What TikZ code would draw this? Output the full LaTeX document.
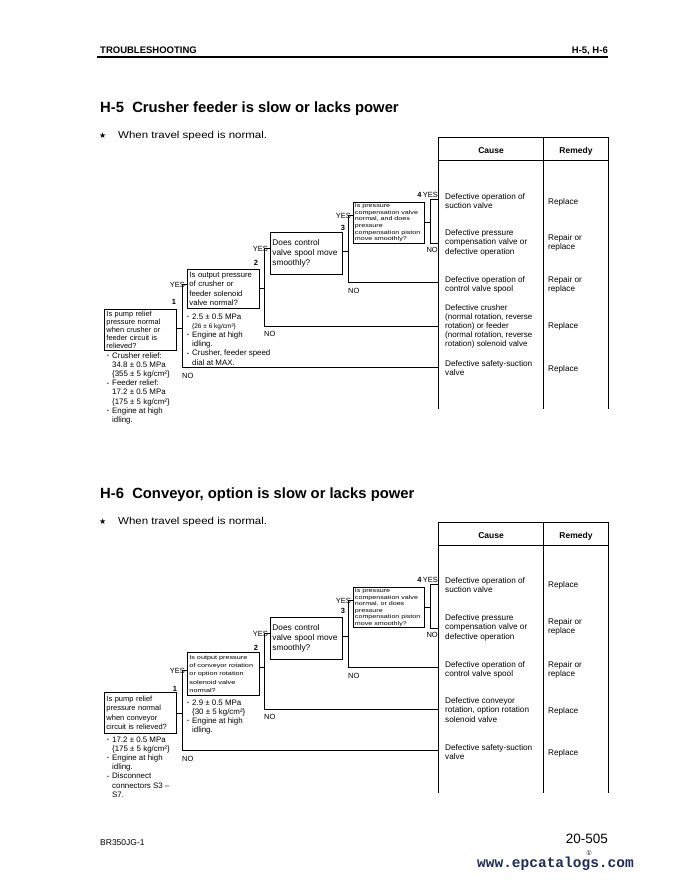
\documentclass[tikz,border=0pt]{standalone}
\usepackage{fontspec}
\setmainfont{Liberation Sans}
\newfontfamily\djv{DejaVu Sans}
\newfontfamily\wide[FakeStretch=1.3]{Liberation Sans}
\newfontfamily\widea[FakeStretch=1.15]{Liberation Sans}
\newfontfamily\monob{Liberation Mono}
\usetikzlibrary{calc}
\definecolor{navy}{RGB}{28,42,92}
\newcommand\bul{\makebox[5pt][l]{\raisebox{0.6pt}{\fontsize{5}{5}\selectfont •}}}
\newcommand\ind{\hspace*{5pt}}
\newcommand\ml[1]{\begin{tabular}[t]{@{}l@{}}#1\end{tabular}}
\newcommand\fcause{\fontsize{8.2}{9.5}\selectfont}
\newcommand\fnote{\fontsize{7.9}{9.2}\selectfont}
\tikzset{
  qbox/.style={draw, line width=0.9pt, anchor=north west, align=left, inner sep=2pt, text width=68pt},
  ln/.style={line width=0.9pt},
  txt/.style={anchor=base west, inner sep=0pt},
  yeslbl/.style={anchor=base east, inner sep=0pt, font=\fontsize{7.5}{9}\selectfont},
  nolbl/.style={anchor=base west, inner sep=0pt, font=\fontsize{7.5}{9}\selectfont},
  numlbl/.style={anchor=base, inner sep=0pt, font=\bfseries\fontsize{7.5}{9}\selectfont},
  hdr/.style={anchor=base, inner sep=0pt, font=\bfseries\fontsize{8.5}{10}\selectfont},
}
\begin{document}
\begin{tikzpicture}[x=1pt,y=-1pt]
\useasboundingbox (0,0) rectangle (684,880);

% page header
\node[anchor=base west, inner sep=0pt, font=\bfseries\fontsize{9.5}{11}\selectfont] (hl) at (100,54) {TROUBLESHOOTING};
\node[anchor=base east, inner sep=0pt, font=\bfseries\fontsize{9.5}{11}\selectfont] (hr) at (608,54) {H-5, H-6};
\draw[line width=1.1pt] (97,57) -- (608,57);

% ================= H-5 =================
\node[anchor=base west, inner sep=0pt, font=\bfseries\fontsize{14.8}{16}\selectfont] (t5) at (100,113) {H-5\ \ Crusher feeder is slow or lacks power};
\node[anchor=base west, inner sep=0pt, font=\djv\fontsize{8}{9}\selectfont] (s5) at (99,139) {★};
\node[anchor=base west, inner sep=0pt, font=\widea\fontsize{10}{12}\selectfont] (w5) at (118,139) {When travel speed is normal.};

% table
\draw[ln] (438,409) -- (438,137) -- (608,137) -- (608,409);
\draw[ln] (543,137) -- (543,409);
\draw[line width=0.4pt] (438,160) -- (608,160);
\coordinate (T5) at (438,137);
\node[hdr] (ca5) at (491,153) {Cause};
\node[hdr] (re5) at (576,153) {Remedy};

\node[txt, font=\fcause] (c51) at (445,199) {\ml{Defective operation of\\suction valve}};
\node[txt, font=\fcause] (c52) at (445,235) {\ml{Defective pressure\\compensation valve or\\defective operation}};
\node[txt, font=\fcause] (c53) at (445,282) {\ml{Defective operation of\\control valve spool}};
\node[txt, font=\fontsize{8}{9}\selectfont] (c54) at (445,310) {\ml{Defective crusher\\(normal rotation, reverse\\rotation) or feeder\\(normal rotation, reverse\\rotation) solenoid valve}};
\node[txt, font=\fcause] (c55) at (445,366) {\ml{Defective safety-suction\\valve}};
\node[txt, font=\fcause] (r51) at (548,204) {Replace};
\node[txt, font=\fcause] (r52) at (548,240) {\ml{Repair or\\replace}};
\node[txt, font=\fcause] (r53) at (548,282) {\ml{Repair or\\replace}};
\node[txt, font=\fcause] (r54) at (548,328) {Replace};
\node[txt, font=\fcause] (r55) at (548,371) {Replace};

% questions
\node[qbox, minimum height=41pt, font=\fontsize{7.4}{7.9}\selectfont] (q51) at (104,309) {Is pump relief\\pressure normal\\when crusher or\\feeder circuit is\\relieved?};
\node[qbox, minimum height=39pt, font=\fontsize{7.7}{9.3}\selectfont] (q52) at (187,269) {Is output pressure\\of crusher or\\feeder solenoid\\valve normal?};
\node[qbox, minimum height=42pt, font=\fontsize{8.3}{10.3}\selectfont] (q53) at (270,232) {Does control\\valve spool move\\smoothly?};
\node[qbox, minimum height=41pt, inner sep=1.5pt, font=\wide\fontsize{5.5}{6.6}\selectfont] (q54) at (353,202) {Is pressure\\compensation valve\\normal, and does\\pressure\\compensation piston\\move smoothly?};

% notes
\node[txt, font=\fnote] (m51) at (107,358) {\ml{\bul Crusher relief:\\\ind 34.8 ± 0.5 MPa\\\ind \{355 ± 5 kg/cm²\}\\\bul Feeder relief:\\\ind 17.2 ± 0.5 MPa\\\ind \{175 ± 5 kg/cm²\}\\\bul Engine at high\\\ind idling.}};
\node[txt, font=\fnote] (m52) at (187,319) {\ml{\bul 2.5 ± 0.5 MPa\\\ind{\fontsize{6.5}{9.2}\selectfont \{26 ± 6 kg/cm²\}}\\\bul Engine at high\\\ind idling.\\\bul Crusher, feeder speed\\\ind dial at MAX.}};

% connectors
\coordinate (a51) at (182,284); \coordinate (b51) at (182,367); \coordinate (c51j) at (182,328);
\coordinate (a52) at (264,248); \coordinate (b52) at (264,326); \coordinate (c52j) at (264,288);
\coordinate (a53) at (348,215); \coordinate (b53) at (348,282); \coordinate (c53j) at (348,251);
\coordinate (a54) at (430,199); \coordinate (b54) at (430,243); \coordinate (c54j) at (430,222);
\draw[ln] (c51j -| q51.east) -- (c51j);
\draw[ln] (a51 -| q52.west) -- (a51) -- (b51) -- (b51 -| T5);
\draw[ln] (c52j -| q52.east) -- (c52j);
\draw[ln] (a52 -| q53.west) -- (a52) -- (b52) -- (b52 -| T5);
\draw[ln] (c53j -| q53.east) -- (c53j);
\draw[ln] (a53 -| q54.west) -- (a53) -- (b53) -- (b53 -| T5);
\draw[ln] (c54j -| q54.east) -- (c54j);
\draw[ln] (a54 -| T5) -- (a54) -- (b54) -- (b54 -| T5);

\node[yeslbl] (y51) at ($(a51)+(3,3)$) {YES};
\node[yeslbl] (y52) at ($(a52)+(4,3)$) {YES};
\node[yeslbl] (y53) at ($(a53)+(3,3)$) {YES};
\node[yeslbl] (y54) at (438,197) {\textbf{4}\,YES};
\node[numlbl] (k51) at ($(a51)+(-8,20)$) {1};
\node[numlbl] (k52) at ($(a52)+(-8,17)$) {2};
\node[numlbl] (k53) at ($(a53)+(-5,15)$) {3};
\node[nolbl] (o51) at ($(b51)+(0,11)$) {NO};
\node[nolbl] (o52) at ($(b52)+(0,10)$) {NO};
\node[nolbl] (o53) at ($(b53)+(0,11)$) {NO};
\node[yeslbl] (o54) at (438,252) {NO};

% ================= H-6 =================
\node[anchor=base west, inner sep=0pt, font=\bfseries\fontsize{14.8}{16}\selectfont] (t6) at (100,498) {H-6\ \ Conveyor, option is slow or lacks power};
\node[anchor=base west, inner sep=0pt, font=\djv\fontsize{8}{9}\selectfont] (s6) at (99,524) {★};
\node[anchor=base west, inner sep=0pt, font=\widea\fontsize{10}{12}\selectfont] (w6) at (118,524) {When travel speed is normal.};

\draw[ln] (438,793) -- (438,522) -- (608,522) -- (608,793);
\draw[ln] (543,522) -- (543,793);
\draw[line width=0.4pt] (438,545) -- (608,545);
\coordinate (T6) at (438,522);
\node[hdr] (ca6) at (491,538) {Cause};
\node[hdr] (re6) at (576,538) {Remedy};

\node[txt, font=\fcause] (c61) at (445,583) {\ml{Defective operation of\\suction valve}};
\node[txt, font=\fcause] (c62) at (445,620) {\ml{Defective pressure\\compensation valve or\\defective operation}};
\node[txt, font=\fcause] (c63) at (445,667) {\ml{Defective operation of\\control valve spool}};
\node[txt, font=\fcause] (c64) at (445,703) {\ml{Defective conveyor\\rotation, option rotation\\solenoid valve}};
\node[txt, font=\fcause] (c65) at (445,750) {\ml{Defective safety-suction\\valve}};
\node[txt, font=\fcause] (r61) at (548,587) {Replace};
\node[txt, font=\fcause] (r62) at (548,624) {\ml{Repair or\\replace}};
\node[txt, font=\fcause] (r63) at (548,667) {\ml{Repair or\\replace}};
\node[txt, font=\fcause] (r64) at (548,713) {Replace};
\node[txt, font=\fcause] (r65) at (548,755) {Replace};

\node[qbox, minimum height=41pt, font=\fontsize{7.5}{9.4}\selectfont] (q61) at (104,692) {Is pump relief\\pressure normal\\when conveyor\\circuit is relieved?};
\node[qbox, minimum height=43pt, font=\wide\fontsize{5.6}{8.4}\selectfont] (q62) at (187,652) {Is output pressure\\of conveyor rotation\\or option rotation\\solenoid valve\\normal?};
\node[qbox, minimum height=42pt, font=\fontsize{8.3}{10.3}\selectfont] (q63) at (270,617) {Does control\\valve spool move\\smoothly?};
\node[qbox, minimum height=40pt, inner sep=1.5pt, font=\wide\fontsize{5.5}{6.5}\selectfont] (q64) at (353,587) {Is pressure\\compensation valve\\normal, or does\\pressure\\compensation piston\\move smoothly?};

\node[txt, font=\fnote] (m61) at (107,742) {\ml{\bul 17.2 ± 0.5 MPa\\\ind \{175 ± 5 kg/cm²\}\\\bul Engine at high\\\ind idling.\\\bul Disconnect\\\ind connectors S3 –\\\ind S7.}};
\node[txt, font=\fnote] (m62) at (187,705) {\ml{\bul 2.9 ± 0.5 MPa\\\ind \{30 ± 5 kg/cm²\}\\\bul Engine at high\\\ind idling.}};

\coordinate (a61) at (182,670); \coordinate (b61) at (182,750); \coordinate (c61j) at (182,713);
\coordinate (a62) at (264,633); \coordinate (b62) at (264,709); \coordinate (c62j) at (264,667);
\coordinate (a63) at (348,600); \coordinate (b63) at (348,667); \coordinate (c63j) at (348,636);
\coordinate (a64) at (430,584); \coordinate (b64) at (430,628); \coordinate (c64j) at (430,607);
\draw[ln] (c61j -| q61.east) -- (c61j);
\draw[ln] (a61 -| q62.west) -- (a61) -- (b61) -- (b61 -| T6);
\draw[ln] (c62j -| q62.east) -- (c62j);
\draw[ln] (a62 -| q63.west) -- (a62) -- (b62) -- (b62 -| T6);
\draw[ln] (c63j -| q63.east) -- (c63j);
\draw[ln] (a63 -| q64.west) -- (a63) -- (b63) -- (b63 -| T6);
\draw[ln] (c64j -| q64.east) -- (c64j);
\draw[ln] (a64 -| T6) -- (a64) -- (b64) -- (b64 -| T6);

\node[yeslbl] (y61) at ($(a61)+(3,3)$) {YES};
\node[yeslbl] (y62) at ($(a62)+(4,3)$) {YES};
\node[yeslbl] (y63) at ($(a63)+(3,3)$) {YES};
\node[yeslbl] (y64) at (438,582) {\textbf{4}\,YES};
\node[numlbl] (k61) at ($(a61)+(-7,21)$) {1};
\node[numlbl] (k62) at ($(a62)+(-8,17)$) {2};
\node[numlbl] (k63) at ($(a63)+(-5,13)$) {3};
\node[nolbl] (o61) at ($(b61)+(0,11)$) {NO};
\node[nolbl] (o62) at ($(b62)+(0,10)$) {NO};
\node[nolbl] (o63) at ($(b63)+(0,11)$) {NO};
\node[yeslbl] (o64) at (438,637) {NO};

% footer
\node[anchor=base west, inner sep=0pt, font=\fontsize{8.5}{10}\selectfont] (f1) at (100,845) {BR350JG-1};
\node[anchor=base east, inner sep=0pt, font=\fontsize{13.5}{15}\selectfont] (f2) at (608,843) {20-505};
\node[inner sep=0pt, font=\djv\fontsize{6.5}{7}\selectfont] (f3) at (589,853) {①};
\node[anchor=base east, inner sep=0pt, text=navy, font=\monob\bfseries\fontsize{14.5}{16}\selectfont] (f4) at (634,867) {www.epcatalogs.com};
\end{tikzpicture}
\end{document}
